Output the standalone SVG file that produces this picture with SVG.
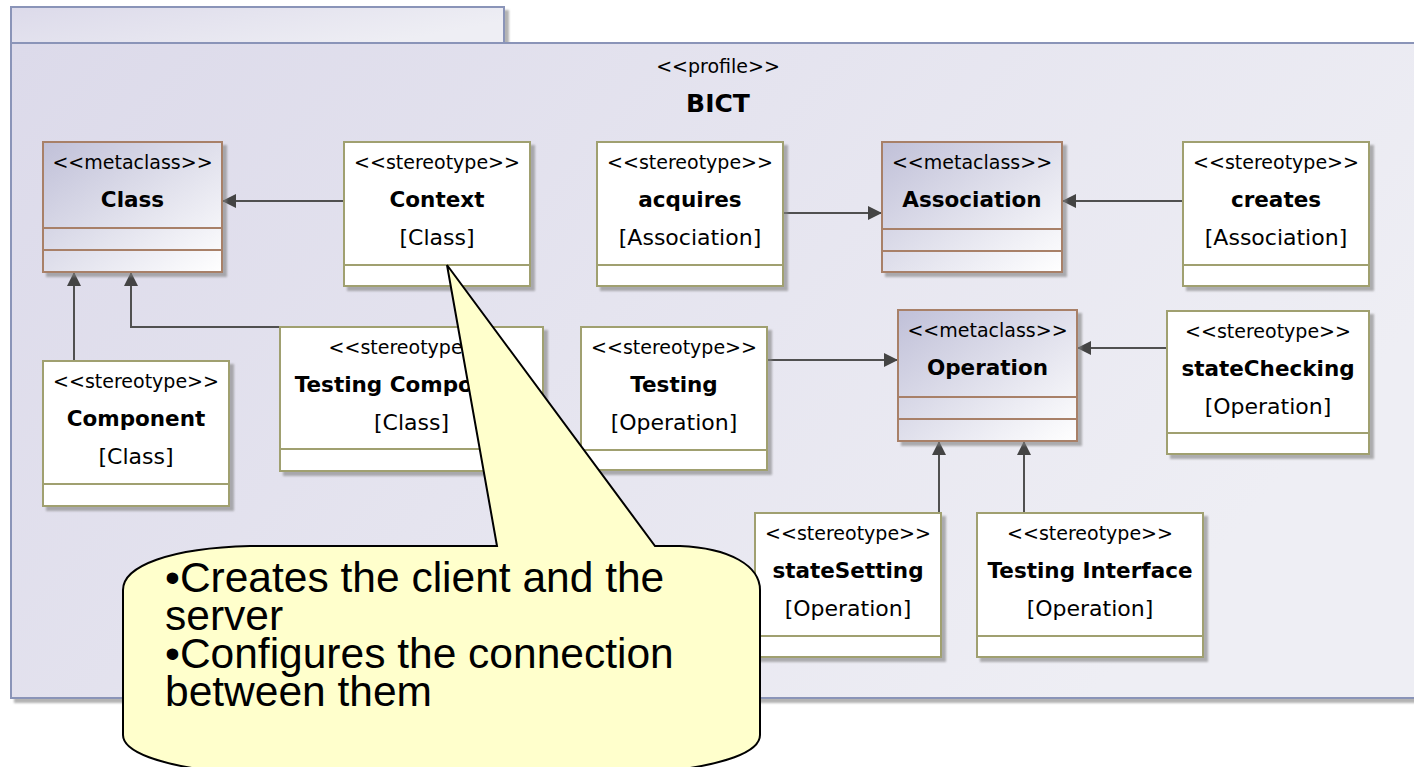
<svg xmlns="http://www.w3.org/2000/svg" width="1414" height="767" viewBox="0 0 1414 767">
  <defs>
    <linearGradient id="pkgFill" x1="0" y1="0" x2="1" y2="0.4">
      <stop offset="0" stop-color="#DCDAEA"/>
      <stop offset="1" stop-color="#EEEEF4"/>
    </linearGradient>
    <linearGradient id="metaFill" x1="0" y1="0" x2="1" y2="1">
      <stop offset="0" stop-color="#C0C0D8"/>
      <stop offset="1" stop-color="#FFFFFF"/>
    </linearGradient>
    <filter id="shadow" x="-5%" y="-5%" width="115%" height="115%">
      <feDropShadow dx="4" dy="4" stdDeviation="1" flood-color="#808080" flood-opacity="0.6"/>
    </filter>
    <marker id="arrow" markerUnits="userSpaceOnUse" markerWidth="15" markerHeight="14" refX="14" refY="7" orient="auto">
      <path d="M0,0 L14,7 L0,14 Z" fill="#444444"/>
    </marker>
    <style>
      .pkg { fill: url(#pkgFill); stroke: #8A94B8; stroke-width: 2; }
      .meta { fill: url(#metaFill); stroke: #A88068; stroke-width: 2; }
      .meta-line { stroke: #A88068; stroke-width: 2; }
      .st { fill: #FFFFFF; stroke: #A0A070; stroke-width: 2; }
      .st-line { stroke: #A0A070; stroke-width: 2; }
      .edge { fill: none; stroke: #505050; stroke-width: 2; marker-end: url(#arrow); }
      text { font-family: "DejaVu Sans", Verdana, sans-serif; fill: #000000; text-anchor: middle; }
      .stereo { font-size: 19px; }
      .name { font-size: 21.5px; font-weight: bold; }
      .base { font-size: 22px; }
      .title { font-size: 25px; font-weight: bold; }
      .note { fill: #FFFFCC; stroke: #000000; stroke-width: 2; stroke-linejoin: miter; }
      .note-text { font-family: "Liberation Sans", Arial, sans-serif; font-size: 42.5px; text-anchor: start; }
    </style>
  </defs>

  <rect width="1414" height="767" fill="#FFFFFF"/>

  <!-- profile package -->
  <g id="profile-BICT">
    <g filter="url(#shadow)">
      <rect class="pkg" x="11" y="7" width="493" height="36"/>
      <rect class="pkg" x="11" y="43" width="1420" height="655"/>
    </g>
    <text class="stereo" x="718" y="73">&lt;&lt;profile&gt;&gt;</text>
    <text class="title" x="718" y="112">BICT</text>
  </g>

  <!-- connectors -->
  <g id="connectors">
    <path class="edge" d="M344,201 L222,201"/>
    <path class="edge" d="M74,361 L74,272"/>
    <path class="edge" d="M280,327 L131,327 L131,272"/>
    <path class="edge" d="M783,213 L882,213"/>
    <path class="edge" d="M1183,201 L1062,201"/>
    <path class="edge" d="M767,360 L898,360"/>
    <path class="edge" d="M1167,348 L1077,348"/>
    <path class="edge" d="M939,513 L939,441"/>
    <path class="edge" d="M1024,513 L1024,441"/>
  </g>

  <!-- metaclasses -->
  <g id="Class">
    <rect class="meta" x="43" y="142" width="179" height="130" filter="url(#shadow)"/>
    <line class="meta-line" x1="43" y1="228" x2="222" y2="228"/>
    <line class="meta-line" x1="43" y1="250" x2="222" y2="250"/>
    <text class="stereo" x="132.5" y="169">&lt;&lt;metaclass&gt;&gt;</text>
    <text class="name" x="132.5" y="207">Class</text>
  </g>
  <g id="Association">
    <rect class="meta" x="882" y="142" width="180" height="130" filter="url(#shadow)"/>
    <line class="meta-line" x1="882" y1="229" x2="1062" y2="229"/>
    <line class="meta-line" x1="882" y1="251" x2="1062" y2="251"/>
    <text class="stereo" x="972" y="169">&lt;&lt;metaclass&gt;&gt;</text>
    <text class="name" x="972" y="207">Association</text>
  </g>
  <g id="Operation">
    <rect class="meta" x="898" y="310" width="179" height="131" filter="url(#shadow)"/>
    <line class="meta-line" x1="898" y1="397" x2="1077" y2="397"/>
    <line class="meta-line" x1="898" y1="419" x2="1077" y2="419"/>
    <text class="stereo" x="987.5" y="337">&lt;&lt;metaclass&gt;&gt;</text>
    <text class="name" x="987.5" y="375">Operation</text>
  </g>

  <!-- stereotypes -->
  <g id="Context">
    <rect class="st" x="344" y="142" width="186" height="144" filter="url(#shadow)"/>
    <line class="st-line" x1="344" y1="265" x2="530" y2="265"/>
    <text class="stereo" x="437" y="169">&lt;&lt;stereotype&gt;&gt;</text>
    <text class="name" x="437" y="207">Context</text>
    <text class="base" x="437" y="245">[Class]</text>
  </g>
  <g id="acquires">
    <rect class="st" x="597" y="142" width="186" height="144" filter="url(#shadow)"/>
    <line class="st-line" x1="597" y1="265" x2="783" y2="265"/>
    <text class="stereo" x="690" y="169">&lt;&lt;stereotype&gt;&gt;</text>
    <text class="name" x="690" y="207">acquires</text>
    <text class="base" x="690" y="245">[Association]</text>
  </g>
  <g id="creates">
    <rect class="st" x="1183" y="142" width="186" height="144" filter="url(#shadow)"/>
    <line class="st-line" x1="1183" y1="265" x2="1369" y2="265"/>
    <text class="stereo" x="1276" y="169">&lt;&lt;stereotype&gt;&gt;</text>
    <text class="name" x="1276" y="207">creates</text>
    <text class="base" x="1276" y="245">[Association]</text>
  </g>
  <g id="Component">
    <rect class="st" x="43" y="361" width="186" height="145" filter="url(#shadow)"/>
    <line class="st-line" x1="43" y1="484" x2="229" y2="484"/>
    <text class="stereo" x="136" y="388">&lt;&lt;stereotype&gt;&gt;</text>
    <text class="name" x="136" y="426">Component</text>
    <text class="base" x="136" y="464">[Class]</text>
  </g>
  <g id="TestingComponent">
    <rect class="st" x="280" y="327" width="263" height="144" filter="url(#shadow)"/>
    <line class="st-line" x1="280" y1="449" x2="543" y2="449"/>
    <text class="stereo" x="411.5" y="354">&lt;&lt;stereotype&gt;&gt;</text>
    <text class="name" x="411.5" y="392">Testing Component</text>
    <text class="base" x="411.5" y="430">[Class]</text>
  </g>
  <g id="Testing">
    <rect class="st" x="581" y="327" width="186" height="143" filter="url(#shadow)"/>
    <line class="st-line" x1="581" y1="450" x2="767" y2="450"/>
    <text class="stereo" x="674" y="354">&lt;&lt;stereotype&gt;&gt;</text>
    <text class="name" x="674" y="392">Testing</text>
    <text class="base" x="674" y="430">[Operation]</text>
  </g>
  <g id="stateChecking">
    <rect class="st" x="1167" y="311" width="202" height="143" filter="url(#shadow)"/>
    <line class="st-line" x1="1167" y1="433" x2="1369" y2="433"/>
    <text class="stereo" x="1268" y="338">&lt;&lt;stereotype&gt;&gt;</text>
    <text class="name" x="1268" y="376">stateChecking</text>
    <text class="base" x="1268" y="414">[Operation]</text>
  </g>
  <g id="stateSetting">
    <rect class="st" x="755" y="513" width="186" height="144" filter="url(#shadow)"/>
    <line class="st-line" x1="755" y1="636" x2="941" y2="636"/>
    <text class="stereo" x="848" y="540">&lt;&lt;stereotype&gt;&gt;</text>
    <text class="name" x="848" y="578">stateSetting</text>
    <text class="base" x="848" y="616">[Operation]</text>
  </g>
  <g id="TestingInterface">
    <rect class="st" x="977" y="513" width="226" height="144" filter="url(#shadow)"/>
    <line class="st-line" x1="977" y1="636" x2="1203" y2="636"/>
    <text class="stereo" x="1090" y="540">&lt;&lt;stereotype&gt;&gt;</text>
    <text class="name" x="1090" y="578">Testing Interface</text>
    <text class="base" x="1090" y="616">[Operation]</text>
  </g>

  <!-- callout note pointing at Context -->
  <g id="note">
    <path class="note" d="M123,590 C123,566 170,548 250,546 L497,546 L447,265 L655,546 L680,546 C730,548 760,566 760,590 L760,735 C760,752 725,765 660,772 L220,772 C160,765 123,752 123,735 Z"/>
    <text class="note-text" x="165" y="592">•Creates the client and the</text>
    <text class="note-text" x="165" y="630">server</text>
    <text class="note-text" x="165" y="668">•Configures the connection</text>
    <text class="note-text" x="165" y="706">between them</text>
  </g>
</svg>
